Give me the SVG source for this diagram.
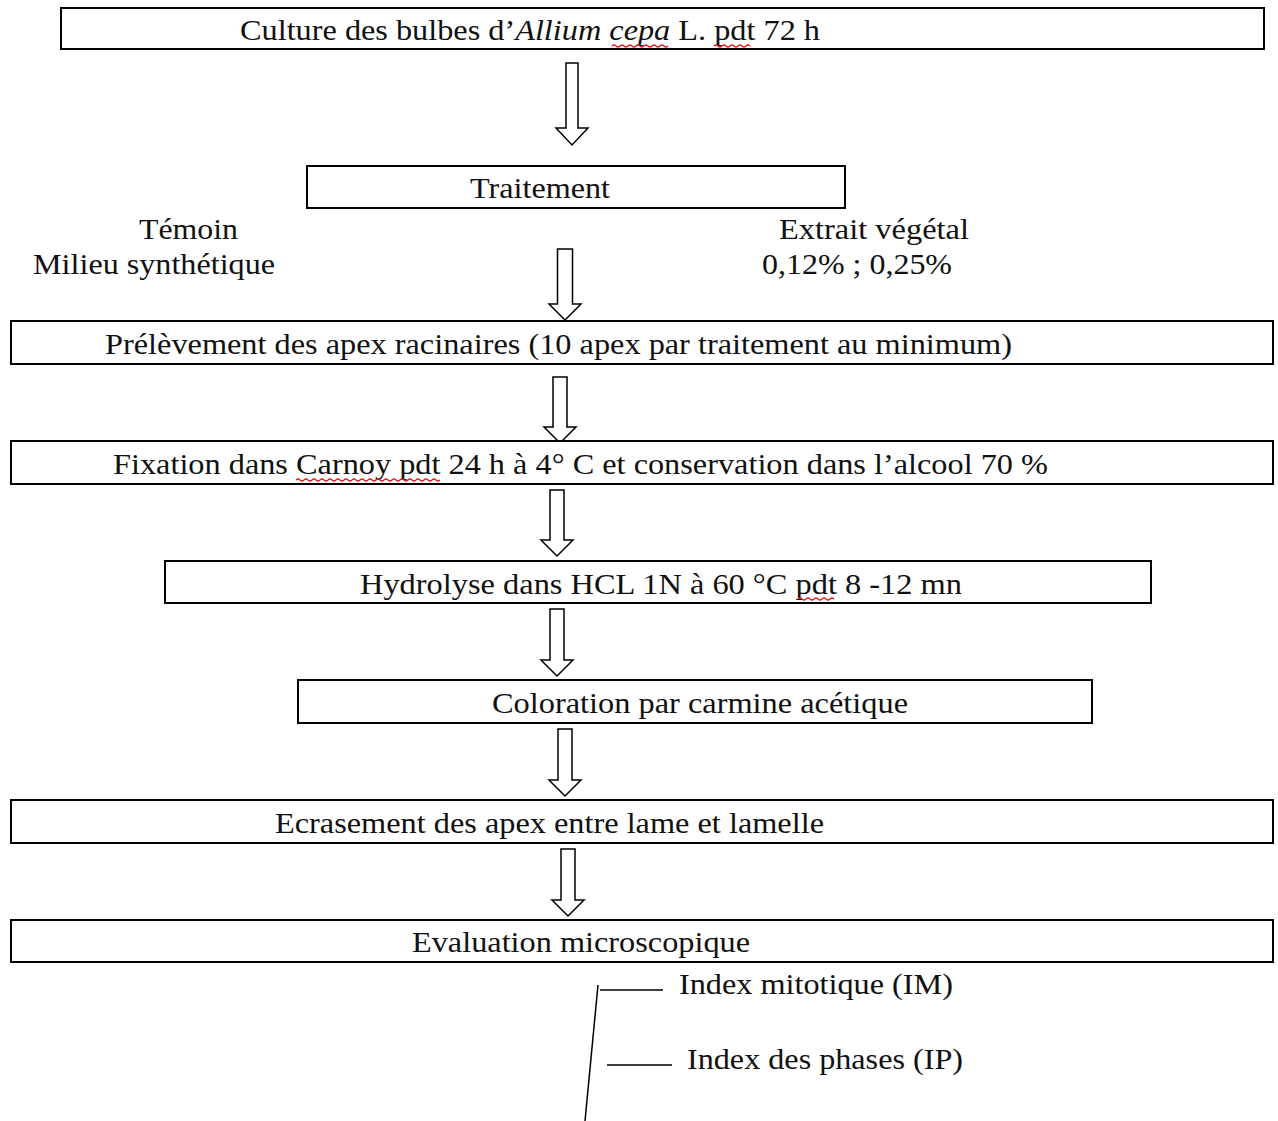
<svg xmlns="http://www.w3.org/2000/svg" width="1278" height="1121" viewBox="0 0 1278 1121">
  <style>
    .box { fill: #fff; stroke: #000; stroke-width: 2; }
    .t { font-family: "Liberation Serif", "Times New Roman", serif; font-size: 30px; fill: #111; }
    .arrow { fill: #fff; stroke: #000; stroke-width: 1.5; stroke-linejoin: miter; }
    .line { stroke: #000; stroke-width: 1.5; fill: none; }
    .spell { stroke: #e02020; stroke-width: 1.2; fill: none; }
  </style>
  <rect width="1278" height="1121" fill="#fff"/>

  <!-- hollow block arrows between the steps, and the bracket under the last step -->
  <g id="connectors">
    <path class="arrow" d="M566,63 L578,63 L578,128 L588,128 L572,145 L556,128 L566,128 Z"/>
    <path class="arrow" d="M557.5,249 L572.5,249 L572.5,304 L581,304 L565,320 L549,304 L557.5,304 Z"/>
    <path class="arrow" d="M553,377 L567,377 L567,427 L576,427 L560,443 L544,427 L553,427 Z"/>
    <path class="arrow" d="M550,490 L564,490 L564,540 L573,540 L557,556 L541,540 L550,540 Z"/>
    <path class="arrow" d="M550,609 L564,609 L564,660 L573,660 L557,676 L541,660 L550,660 Z"/>
    <path class="arrow" d="M558,729 L572,729 L572,780 L581,780 L565,796 L549,780 L558,780 Z"/>
    <path class="arrow" d="M561,849 L575,849 L575,900 L584,900 L568,916 L552,900 L561,900 Z"/>
    <path class="line" d="M598,985 L585,1121"/>
    <path class="line" d="M600,990 L663,990"/>
    <path class="line" d="M607,1065 L672,1065"/>
  </g>

  <g id="culture">
    <rect class="box" x="61" y="8" width="1203" height="41"/>
    <text class="t" x="240" y="40" textLength="580" lengthAdjust="spacingAndGlyphs">Culture des bulbes d’<tspan font-style="italic">Allium cepa</tspan> L. pdt 72 h</text>
    <path class="spell" d="M612,46 q2,-2 4,0 t4,0 t4,0 t4,0 t4,0 t4,0 t4,0 t4,0 t4,0 t4,0 t4,0 t4,0 t4,0 t4,0"/>
    <path class="spell" d="M714,46 q2,-2 4,0 t4,0 t4,0 t4,0 t4,0 t4,0 t4,0 t4,0 t4,0"/>
  </g>

  <g id="traitement">
    <rect class="box" x="307" y="166" width="538" height="42"/>
    <text class="t" x="470" y="198" textLength="140" lengthAdjust="spacingAndGlyphs">Traitement</text>
  </g>

  <g id="temoin">
    <text class="t" x="139" y="239" textLength="99" lengthAdjust="spacingAndGlyphs">Témoin</text>
    <text class="t" x="33" y="274" textLength="242" lengthAdjust="spacingAndGlyphs">Milieu synthétique</text>
  </g>

  <g id="extrait">
    <text class="t" x="779" y="239" textLength="190" lengthAdjust="spacingAndGlyphs">Extrait végétal</text>
    <text class="t" x="762" y="274" textLength="190" lengthAdjust="spacingAndGlyphs">0,12% ; 0,25%</text>
  </g>

  <g id="prelevement">
    <rect class="box" x="11" y="321" width="1262" height="43"/>
    <text class="t" x="105" y="354" textLength="907" lengthAdjust="spacingAndGlyphs">Prélèvement des apex racinaires (10 apex par traitement au minimum)</text>
  </g>

  <g id="fixation">
    <rect class="box" x="11" y="441" width="1262" height="43"/>
    <text class="t" x="113" y="474" textLength="935" lengthAdjust="spacingAndGlyphs">Fixation dans Carnoy pdt 24 h à 4° C et conservation dans l’alcool 70 %</text>
    <path class="spell" d="M296,480 q2,-2 4,0 t4,0 t4,0 t4,0 t4,0 t4,0 t4,0 t4,0 t4,0 t4,0 t4,0 t4,0 t4,0 t4,0 t4,0 t4,0 t4,0 t4,0 t4,0 t4,0 t4,0 t4,0 t4,0 t4,0 t4,0 t4,0 t4,0 t4,0 t4,0 t4,0 t4,0 t4,0 t4,0 t4,0 t4,0 t4,0"/>
  </g>

  <g id="hydrolyse">
    <rect class="box" x="165" y="561" width="986" height="42"/>
    <text class="t" x="360" y="594" textLength="602" lengthAdjust="spacingAndGlyphs">Hydrolyse dans HCL 1N à 60 °C pdt 8 -12 mn</text>
    <path class="spell" d="M798,599 q2,-2 4,0 t4,0 t4,0 t4,0 t4,0 t4,0 t4,0 t4,0 t4,0"/>
  </g>

  <g id="coloration">
    <rect class="box" x="298" y="680" width="794" height="43"/>
    <text class="t" x="492" y="713" textLength="416" lengthAdjust="spacingAndGlyphs">Coloration par carmine acétique</text>
  </g>

  <g id="ecrasement">
    <rect class="box" x="11" y="800" width="1262" height="43"/>
    <text class="t" x="275" y="833" textLength="549" lengthAdjust="spacingAndGlyphs">Ecrasement des apex entre lame et lamelle</text>
  </g>

  <g id="evaluation">
    <rect class="box" x="11" y="920" width="1262" height="42"/>
    <text class="t" x="412" y="952" textLength="338" lengthAdjust="spacingAndGlyphs">Evaluation microscopique</text>
  </g>

  <g id="indices">
    <text class="t" x="679" y="994" textLength="274" lengthAdjust="spacingAndGlyphs">Index mitotique (IM)</text>
    <text class="t" x="687" y="1069" textLength="276" lengthAdjust="spacingAndGlyphs">Index des phases (IP)</text>
  </g>
</svg>
